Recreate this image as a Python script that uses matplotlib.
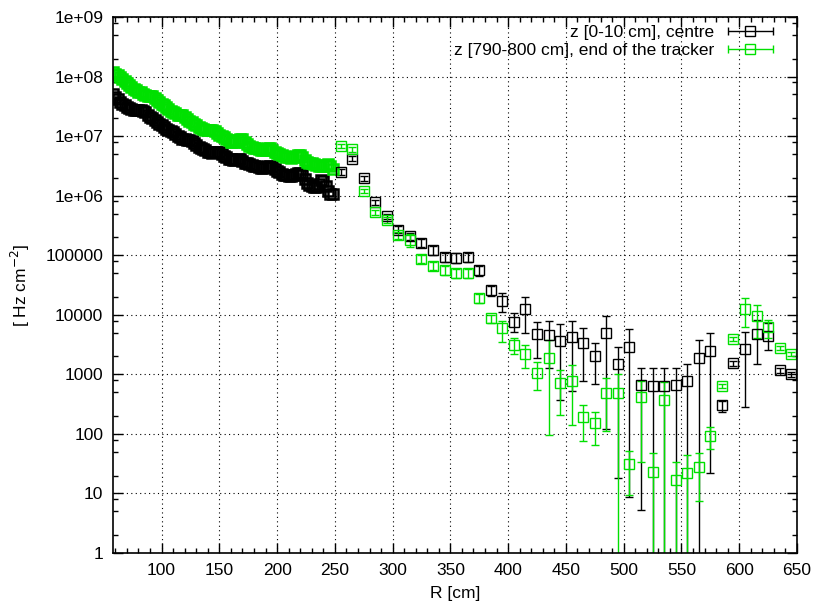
import numpy as np
import matplotlib
matplotlib.use("Agg")
import matplotlib.pyplot as plt
from matplotlib.ticker import FixedLocator, FixedFormatter, MultipleLocator, LogLocator, NullFormatter
from matplotlib.container import ErrorbarContainer
from matplotlib.legend_handler import HandlerErrorbar

plt.rcParams['font.family'] = ['Liberation Sans', 'DejaVu Sans']

# --- fine binning (2 cm) up to R ~ 250 cm ---
dense_r = np.arange(58, 250, 2)
centre_dense = [5.0e7, 4.6e7, 4.2e7, 3.8e7, 3.5e7, 3.3e7, 3.1e7, 3.0e7, 2.8e7, 2.75e7,
                2.7e7, 2.7e7, 2.7e7, 2.6e7, 2.5e7, 2.3e7, 2.1e7, 2.0e7, 1.86e7, 1.74e7,
                1.62e7, 1.51e7, 1.41e7, 1.32e7, 1.26e7, 1.20e7, 1.15e7, 1.07e7, 1.00e7, 9.5e6,
                9.1e6, 8.9e6, 8.7e6, 8.5e6, 8.3e6, 7.8e6, 7.1e6, 6.6e6, 6.3e6, 6.0e6,
                5.8e6, 5.5e6, 5.4e6, 5.2e6, 5.4e6, 5.5e6, 5.4e6, 5.0e6, 4.7e6, 4.4e6,
                4.2e6, 4.1e6, 4.0e6, 4.0e6, 4.1e6, 4.1e6, 3.8e6, 3.6e6, 3.5e6, 3.4e6,
                3.3e6, 3.2e6, 3.1e6, 3.0e6, 2.95e6, 2.95e6, 3.0e6, 3.2e6, 3.2e6, 3.0e6,
                2.8e6, 2.6e6, 2.45e6, 2.3e6, 2.2e6, 2.2e6, 2.1e6, 2.1e6, 2.2e6, 2.3e6,
                2.4e6, 2.4e6, 2.2e6, 1.9e6, 1.66e6, 1.5e6, 1.45e6, 1.4e6, 1.38e6, 1.6e6,
                1.86e6, 1.74e6, 1.45e6, 1.2e6, 1.07e6, 1.05e6]
end_dense = [1.20e8, 1.12e8, 1.05e8, 9.8e7, 9.1e7, 8.5e7, 7.9e7, 7.2e7, 6.8e7, 6.3e7,
             5.9e7, 5.6e7, 5.4e7, 5.1e7, 4.9e7, 4.8e7, 4.8e7, 4.7e7, 4.4e7, 4.1e7,
             3.8e7, 3.5e7, 3.3e7, 3.1e7, 2.8e7, 2.6e7, 2.5e7, 2.4e7, 2.3e7, 2.24e7,
             2.24e7, 2.1e7, 1.95e7, 1.82e7, 1.74e7, 1.62e7, 1.51e7, 1.41e7, 1.35e7, 1.32e7,
             1.29e7, 1.29e7, 1.29e7, 1.29e7, 1.20e7, 1.12e7, 1.05e7, 1.00e7, 9.5e6, 8.9e6,
             8.5e6, 8.1e6, 7.9e6, 8.1e6, 8.7e6, 9.1e6, 8.9e6, 8.1e6, 7.4e6, 6.9e6,
             6.6e6, 6.3e6, 6.2e6, 6.0e6, 5.9e6, 5.8e6, 5.9e6, 6.2e6, 6.2e6, 5.9e6,
             5.5e6, 5.2e6, 5.0e6, 4.9e6, 4.7e6, 4.5e6, 4.4e6, 4.3e6, 4.4e6, 4.7e6,
             4.9e6, 4.8e6, 4.4e6, 4.0e6, 3.7e6, 3.5e6, 3.5e6, 3.4e6, 3.3e6, 3.2e6,
             3.2e6, 3.2e6, 3.3e6, 3.4e6, 3.2e6, 2.8e6]

# --- coarse binning (10 cm) beyond ---
coarse_r = np.arange(255, 650, 10)
centre_val = [2.5e6, 4.2e6, 1.95e6, 7.8e5, 4.5e5, 2.7e5, 2.1e5, 1.6e5, 1.22e5, 9.4e4,
              9.1e4, 9.4e4, 5.6e4, 2.6e4, 1.73e4, 7.7e3, 1.24e4, 4.7e3, 4.6e3, 3.6e3,
              4.2e3, 3.3e3, 2.0e3, 4.9e3, 1.5e3, 2.9e3, 6.6e2, 6.4e2, 6.4e2, 6.6e2,
              7.8e2, 1.86e3, 2.5e3, 3.0e2, 1.57e3, 2.7e3, 4.7e3, 4.4e3, 1.18e3, 1.0e3]
centre_lo = [2.2e6, 3.8e6, 1.75e6, 7.0e5, 4.0e5, 2.35e5, 1.8e5, 1.35e5, 1.0e5, 7.8e4,
             7.5e4, 7.8e4, 4.5e4, 2.1e4, 1.12e4, 5.2e3, 4.9e3, 1.86e3, 1.3e3, 3.7e2,
             5.2e2, 7.8e2, 6.8e2, 1.2e2, 18, 8.8, 5.3, 1e-3, 1e-3, 1e-3,
             1e-3, 1e-3, 22, 2.3e2, 1.4e3, 2.8e2, 1.47e3, 2.6e3, 1.05e3, 9.0e2]
centre_hi = [2.8e6, 4.6e6, 2.15e6, 8.6e5, 5.0e5, 3.05e5, 2.4e5, 1.85e5, 1.45e5, 1.1e5,
             1.07e5, 1.1e5, 6.7e4, 3.1e4, 2.3e4, 1.06e4, 2.0e4, 7.5e3, 7.9e3, 7.0e3,
             7.9e3, 5.9e3, 3.4e3, 9.6e3, 2.9e3, 5.7e3, 1.3e3, 1.26e3, 1.26e3, 1.3e3,
             1.5e3, 3.7e3, 4.9e3, 3.5e2, 1.7e3, 5.2e3, 8.3e3, 7.2e3, 1.3e3, 1.1e3]

end_val = [6.8e6, 6.0e6, 1.2e6, 5.3e5, 3.9e5, 2.2e5, 1.8e5, 8.6e4, 6.7e4, 5.6e4,
           5.0e4, 5.0e4, 1.9e4, 8.7e3, 5.9e3, 3.1e3, 2.2e3, 1.07e3, 1.9e3, 7.1e2,
           7.7e2, 1.9e2, 1.5e2, 4.9e2, 4.9e2, 31, 4.2e2, 23, 3.7e2, 17,
           22, 27.5, 93, 6.4e2, 3.9e3, 1.25e4, 9.6e3, 6.3e3, 2.8e3, 2.2e3]
end_lo = [6.3e6, 5.5e6, 1.1e6, 4.8e5, 3.5e5, 1.9e5, 1.35e5, 7.3e4, 5.7e4, 4.7e4,
          4.2e4, 4.2e4, 1.6e4, 7.4e3, 3.5e3, 2.2e3, 1.3e3, 5.5e2, 96, 2.1e2,
          1.4e2, 76, 65, 1.1e2, 1e-3, 9.4, 34, 1e-3, 1e-3, 1e-3,
          1e-3, 7.6, 55, 5.8e2, 3.6e3, 6.3e3, 4.0e3, 4.0e3, 2.6e3, 2.0e3]
end_hi = [7.3e6, 6.5e6, 1.3e6, 5.8e5, 4.3e5, 2.5e5, 2.3e5, 9.9e4, 7.7e4, 6.5e4,
          5.8e4, 5.8e4, 2.2e4, 1.0e4, 8.0e3, 4.0e3, 3.1e3, 1.6e3, 3.7e3, 1.2e3,
          1.46e3, 3.0e2, 2.3e2, 8.8e2, 1.0e3, 52, 7.8e2, 47, 7.5e2, 34,
          44, 47, 1.3e2, 7.0e2, 4.2e3, 1.9e4, 1.46e4, 8.3e3, 3.0e3, 2.4e3]

labels = ['z [0-10 cm], centre', 'z [790-800 cm], end of the tracker']
colors = ['black', '#00e000']
ytick_vals = [1, 10, 100, 1000, 1e4, 1e5, 1e6, 1e7, 1e8, 1e9]
ytick_labels = ['1', '10', '100', '1000', '10000', '100000', '1e+06', '1e+07', '1e+08', '1e+09']

fig = plt.figure(figsize=(8.18, 6.09), dpi=100)
ax = fig.add_axes([113 / 818, 1 - 553 / 609, 684 / 818, 536 / 609])

series = [(centre_dense, centre_val, centre_lo, centre_hi),
          (end_dense, end_val, end_lo, end_hi)]
for (dense, val, lo, hi), c in zip(series, colors):
    val = np.array(val)
    yerr = [val - np.array(lo), np.array(hi) - val]
    # dense bins overlap into a solid band, as in the original
    ax.plot(dense_r, dense, ls='none', marker='s', ms=7, mfc='none', mec=c, mew=1.8)
    ax.errorbar(coarse_r, val, yerr=yerr, fmt='s', ms=6.5, mfc='none', mec=c, mew=1,
                ecolor=c, elinewidth=1, capsize=3, capthick=1)

# legend samples drawn as horizontal error bars (gnuplot style)
handles = []
for c in colors:
    h = ax.errorbar([np.nan], [np.nan], xerr=[[1], [1]], fmt='s', ms=6.5, mfc='none',
                    mec=c, mew=1, ecolor=c, elinewidth=1, capsize=3, capthick=1)
    handles.append(h)
ax.legend(handles, labels, loc='upper right', bbox_to_anchor=(0.97, 0.985),
          frameon=False, markerfirst=False, handlelength=3.0, handletextpad=0.6,
          labelspacing=0.15, fontsize=12.5, borderpad=0, borderaxespad=0,
          handler_map={ErrorbarContainer: HandlerErrorbar(xerr_size=1.3)})

ax.set_yscale('log')
ax.set_xlim(58, 650)
ax.set_ylim(1, 1e9)

ax.xaxis.set_major_locator(MultipleLocator(50))
ax.xaxis.set_minor_locator(MultipleLocator(10))
ax.yaxis.set_major_locator(FixedLocator(ytick_vals))
ax.yaxis.set_major_formatter(FixedFormatter(ytick_labels))
ax.yaxis.set_minor_locator(LogLocator(base=10, subs=(2, 5, 8), numticks=20))
ax.yaxis.set_minor_formatter(NullFormatter())

ax.tick_params(which='both', direction='in', top=True, right=True, labelsize=12.5)
ax.tick_params(which='major', length=7, width=1, pad=7)
ax.tick_params(which='minor', length=3.5, width=1)
for s in ax.spines.values():
    s.set_linewidth(1.2)

ax.grid(True, which='major', ls=(0, (1, 3)), color='black', lw=0.8)

ax.set_xlabel('R [cm]', fontsize=12.5, labelpad=6)
ax.set_ylabel('[ Hz cm$^{-2}$]', fontsize=12.5, labelpad=10)

fig.savefig('out.png', dpi=100)
